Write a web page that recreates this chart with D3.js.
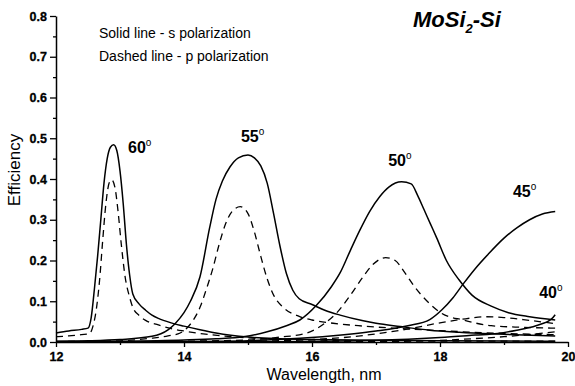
<!DOCTYPE html>
<html>
<head>
<meta charset="utf-8">
<script src="https://cdn.jsdelivr.net/npm/d3@7"></script>
<style>
  body { margin: 0; background: #fff; }
  svg { display: block; font-family: "Liberation Sans", Arial, sans-serif; }
</style>
</head>
<body>
<div id="chart"></div>
<script>
// [wavelength nm, efficiency]
const s60 = [[12.0,0.022],[12.2,0.027],[12.4,0.031],[12.5,0.034],[12.55,0.06],[12.6,0.13],[12.65,0.21],[12.7,0.30],[12.75,0.39],[12.8,0.45],[12.85,0.478],[12.9,0.484],[12.95,0.47],[13.0,0.42],[13.05,0.34],[13.1,0.24],[13.15,0.165],[13.2,0.118],[13.3,0.093],[13.4,0.078],[13.5,0.066],[13.6,0.058],[13.8,0.047],[14.0,0.039],[14.25,0.03],[14.5,0.022],[15.0,0.012],[15.5,0.008],[16.0,0.006],[17.0,0.004],[18.0,0.003],[19.8,0.002]];
const p60 = [[12.0,0.013],[12.2,0.015],[12.4,0.018],[12.52,0.02],[12.58,0.04],[12.63,0.08],[12.68,0.15],[12.73,0.25],[12.78,0.34],[12.83,0.39],[12.87,0.398],[12.92,0.38],[12.97,0.32],[13.02,0.24],[13.08,0.16],[13.15,0.11],[13.2,0.085],[13.3,0.065],[13.4,0.053],[13.6,0.042],[13.8,0.033],[14.0,0.027],[14.3,0.02],[14.6,0.015],[15.0,0.01],[16.0,0.005],[17.0,0.003],[19.8,0.002]];
const s55 = [[12.0,0.002],[12.5,0.003],[13.0,0.006],[13.5,0.014],[13.75,0.03],[13.86,0.045],[14.0,0.072],[14.1,0.10],[14.25,0.16],[14.4,0.28],[14.5,0.35],[14.6,0.395],[14.72,0.43],[14.85,0.452],[15.0,0.459],[15.1,0.452],[15.2,0.432],[15.3,0.39],[15.4,0.315],[15.5,0.235],[15.6,0.168],[15.7,0.127],[15.8,0.106],[16.0,0.092],[16.2,0.078],[16.44,0.066],[16.8,0.052],[17.0,0.046],[17.375,0.038],[17.84,0.029],[18.3,0.024],[18.8,0.02],[19.3,0.017],[19.8,0.015]];
const p55 = [[12.0,0.001],[13.0,0.003],[13.47,0.009],[13.75,0.015],[13.94,0.022],[14.05,0.035],[14.15,0.055],[14.25,0.085],[14.35,0.13],[14.45,0.18],[14.55,0.24],[14.65,0.29],[14.75,0.32],[14.88,0.332],[15.0,0.315],[15.1,0.27],[15.2,0.21],[15.3,0.155],[15.4,0.115],[15.55,0.085],[15.8,0.063],[16.0,0.054],[16.33,0.046],[16.8,0.039],[17.375,0.033],[18.0,0.028],[18.5,0.024],[19.0,0.021],[19.8,0.018]];
const s50 = [[12.0,0.001],[13.0,0.002],[14.0,0.005],[14.5,0.008],[14.93,0.013],[15.3,0.025],[15.6,0.04],[15.81,0.054],[16.07,0.09],[16.3,0.135],[16.44,0.17],[16.6,0.225],[16.75,0.275],[16.9,0.32],[17.06,0.357],[17.2,0.38],[17.4,0.393],[17.55,0.388],[17.65,0.36],[17.75,0.325],[17.85,0.29],[17.95,0.255],[18.1,0.2],[18.3,0.152],[18.5,0.115],[18.8,0.088],[19.07,0.072],[19.4,0.062],[19.8,0.054]];
const p50 = [[12.0,0.0],[14.0,0.002],[14.98,0.005],[15.5,0.012],[15.9,0.021],[16.2,0.046],[16.4,0.074],[16.6,0.115],[16.78,0.156],[16.95,0.19],[17.15,0.207],[17.3,0.2],[17.45,0.17],[17.6,0.136],[17.8,0.1],[18.03,0.07],[18.36,0.054],[18.8,0.04],[19.3,0.036],[19.8,0.034]];
const s45 = [[12.0,0.0],[14.0,0.001],[15.0,0.003],[15.81,0.009],[16.5,0.018],[17.0,0.027],[17.5,0.04],[17.84,0.055],[18.03,0.079],[18.2,0.108],[18.36,0.142],[18.55,0.18],[18.75,0.215],[19.0,0.255],[19.2,0.28],[19.4,0.30],[19.6,0.314],[19.8,0.32]];
const p45 = [[12.0,0.0],[14.0,0.001],[15.0,0.002],[16.0,0.006],[16.5,0.011],[17.0,0.02],[17.5,0.032],[18.0,0.047],[18.4,0.057],[18.7,0.062],[19.0,0.06],[19.4,0.053],[19.8,0.045]];
const s40 = [[12.0,0.0],[16.0,0.001],[17.0,0.004],[17.5,0.007],[18.0,0.011],[18.55,0.017],[18.9,0.021],[19.2,0.029],[19.5,0.04],[19.74,0.056],[19.8,0.067]];
const p40 = [[12.0,0.0],[17.0,0.001],[18.0,0.004],[18.5,0.008],[19.0,0.013],[19.5,0.02],[19.8,0.025]];

const angleLabels = ["60", "55", "50", "45", "40"];
const angleAt = [[13.125, 0.464], [14.89, 0.491], [17.19, 0.432], [19.14, 0.356], [19.55, 0.108]];
const xTicks = [12, 14, 16, 18, 20];
const xMinor = [13, 15, 17, 19];
const yTicks = [0, 0.1, 0.2, 0.3, 0.4, 0.5, 0.6, 0.7, 0.8];
const yMinor = [0.05, 0.15, 0.25, 0.35, 0.45, 0.55, 0.65, 0.75];

const width = 575;
const height = 386;
const margin = {top: 16, right: 7, bottom: 44, left: 56};

const series = [
  {d: s60, dashed: false}, {d: p60, dashed: true},
  {d: s55, dashed: false}, {d: p55, dashed: true},
  {d: s50, dashed: false}, {d: p50, dashed: true},
  {d: s45, dashed: false}, {d: p45, dashed: true},
  {d: s40, dashed: false}, {d: p40, dashed: true}
];

const x = d3.scaleLinear().domain([12, 20]).range([margin.left, width - margin.right]);
const y = d3.scaleLinear().domain([0, 0.8]).range([height - margin.bottom, margin.top]);

const svg = d3.select("#chart").append("svg")
  .attr("width", width).attr("height", height)
  .attr("viewBox", [0, 0, width, height]);

const line = d3.line().x(d => x(d[0])).y(d => y(d[1])).curve(d3.curveMonotoneX);

svg.append("g")
  .attr("fill", "none")
  .attr("stroke", "#000")
  .selectAll("path")
  .data(series)
  .join("path")
  .attr("stroke-width", d => d.dashed ? 1.3 : 1.5)
  .attr("stroke-dasharray", d => d.dashed ? "7,5" : null)
  .attr("d", d => line(d.d));

// axes
const styleAxis = g => {
  g.selectAll(".domain").attr("stroke-width", 1.5);
  g.selectAll(".tick line").attr("stroke-width", 1.3);
  g.selectAll(".tick text")
    .style("font-family", "'Liberation Sans', Arial, sans-serif")
    .style("font-size", "12.5px")
    .style("font-weight", "bold")
    .style("fill", "#000")
    .style("stroke", "#000")
    .style("stroke-width", 0.3);
};

svg.append("g")
  .attr("transform", `translate(0,${y(0)})`)
  .call(d3.axisBottom(x).tickValues(xTicks).tickFormat(d3.format("d")).tickSize(5).tickPadding(5).tickSizeOuter(0))
  .call(styleAxis);
svg.append("g")
  .attr("transform", `translate(0,${y(0)})`)
  .call(d3.axisBottom(x).tickValues(xMinor).tickFormat("").tickSize(3).tickSizeOuter(0))
  .call(g => g.select(".domain").remove())
  .call(styleAxis);

svg.append("g")
  .attr("transform", `translate(${x(12)},0)`)
  .call(d3.axisLeft(y).tickValues(yTicks).tickFormat(d3.format(".1f")).tickSize(6).tickPadding(3).tickSizeOuter(0))
  .call(styleAxis);
svg.append("g")
  .attr("transform", `translate(${x(12)},0)`)
  .call(d3.axisLeft(y).tickValues(yMinor).tickFormat("").tickSize(3).tickSizeOuter(0))
  .call(g => g.select(".domain").remove())
  .call(styleAxis);

// axis titles
svg.append("text")
  .attr("x", 324).attr("y", 380)
  .attr("text-anchor", "middle")
  .attr("font-size", 16)
  .text("Wavelength, nm");

svg.append("text")
  .attr("transform", "translate(20,170) rotate(-90)")
  .attr("text-anchor", "middle")
  .attr("font-size", 17)
  .text("Efficiency");

// legend notes
svg.append("text").attr("x", 99).attr("y", 38).attr("font-size", 14).text("Solid line - s polarization");
svg.append("text").attr("x", 99).attr("y", 61).attr("font-size", 14).text("Dashed line - p polarization");

// title
const title = svg.append("text")
  .attr("x", 413).attr("y", 27)
  .attr("font-size", 22).attr("font-weight", "bold").attr("font-style", "italic");
title.append("tspan").text("MoSi");
title.append("tspan").attr("font-size", 13).attr("dy", 6).text("2");
title.append("tspan").attr("dy", -6).text("-Si");

// angle labels
angleLabels.forEach((lab, i) => {
  const t = svg.append("text")
    .attr("x", x(angleAt[i][0])).attr("y", y(angleAt[i][1]))
    .attr("font-size", 16).attr("font-weight", "bold");
  t.append("tspan").text(lab);
  t.append("tspan").attr("dy", -7).attr("font-size", 10).attr("font-weight", "normal").text("o");
});
</script>
</body>
</html>
